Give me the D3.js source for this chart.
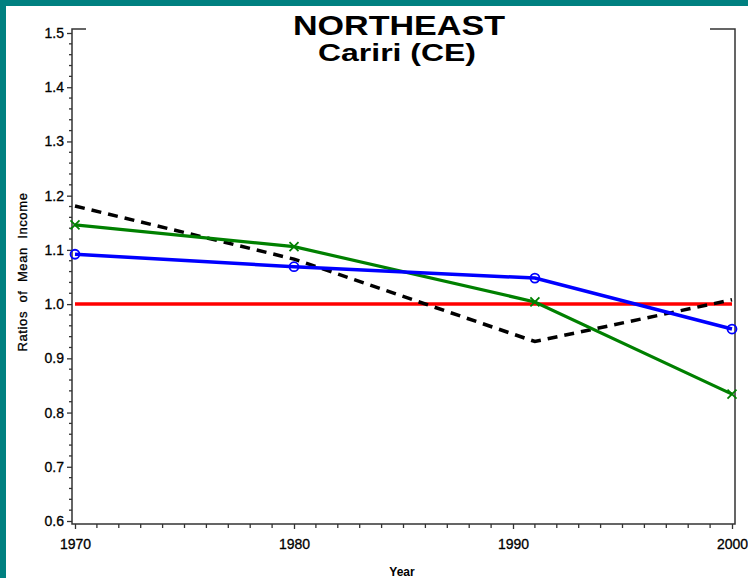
<!DOCTYPE html>
<html>
<head>
<meta charset="utf-8">
<script src="https://cdn.jsdelivr.net/npm/d3@7"></script>
<style>
  html, body { margin: 0; padding: 0; background: #ffffff; }
  svg { display: block; font-family: "Liberation Sans", Arial, Helvetica, sans-serif; }
</style>
</head>
<body>
<div id="chart"></div>
<script>
// data
const years = [1970, 1980, 1991, 2000];
const blueValues = [1.092, 1.069, 1.048, 0.954];
const greenValues = [1.146, 1.106, 1.004, 0.834];
const blackValues = [1.181, 1.083, 0.931, 1.008];
const redValues = [1.0, 1.0, 1.0, 1.0];
const yTicks = [0.6, 0.7, 0.8, 0.9, 1.0, 1.1, 1.2, 1.3, 1.4, 1.5];
const xTicks = [1970, 1980, 1990, 2000];

const width = 748, height = 578;

const svg = d3.select('#chart').append('svg')
  .attr('width', width)
  .attr('height', height);

// teal frame on left and top
svg.append('rect').attr('x', 0).attr('y', 0).attr('width', width).attr('height', 6).attr('fill', '#008080');
svg.append('rect').attr('x', 0).attr('y', 0).attr('width', 6).attr('height', height).attr('fill', '#008080');

const x = d3.scaleLinear().domain([1970, 2000]).range([75, 732]);
const y = d3.scaleLinear().domain([0.6, 1.5]).range([521, 33]);

const axisLeft = 72, axisRight = 735, axisBottom = 524, axisTop = 29;

// y axis
const yAxis = d3.axisLeft(y)
  .tickValues(yTicks)
  .tickFormat(d3.format('.1f'))
  .tickSize(5)
  .tickPadding(3);
const gy = svg.append('g').attr('transform', `translate(${axisLeft},0)`).call(yAxis);
gy.select('.domain').remove();
gy.selectAll('line').attr('stroke', '#333').attr('stroke-width', 1.3);
gy.selectAll('text').attr('font-size', 14).attr('fill', '#000')
  .attr('stroke', '#000').attr('stroke-width', 0.3);

// y minor ticks
const yMinor = d3.range(0.6, 1.5001, 0.02).filter(v => Math.abs(v * 10 - Math.round(v * 10)) > 0.01);
svg.append('g').selectAll('line').data(yMinor).enter().append('line')
  .attr('x1', axisLeft - 3).attr('x2', axisLeft)
  .attr('y1', d => y(d)).attr('y2', d => y(d))
  .attr('stroke', '#333').attr('stroke-width', 1.3);

// x axis
const xAxis = d3.axisBottom(x)
  .tickValues(xTicks)
  .tickFormat(d3.format('d'))
  .tickSize(5)
  .tickPadding(10);
const gx = svg.append('g').attr('transform', `translate(0,${axisBottom})`).call(xAxis);
gx.select('.domain').remove();
gx.selectAll('line').attr('stroke', '#333').attr('stroke-width', 1.3);
gx.selectAll('text').attr('font-size', 14).attr('fill', '#000')
  .attr('stroke', '#000').attr('stroke-width', 0.3);

// x minor ticks, every year
const xMinor = d3.range(1970, 2001).filter(v => v % 10 !== 0);
svg.append('g').selectAll('line').data(xMinor).enter().append('line')
  .attr('x1', d => x(d)).attr('x2', d => x(d))
  .attr('y1', axisBottom).attr('y2', axisBottom + 4)
  .attr('stroke', '#333').attr('stroke-width', 1.3);

// axis frame (gap at the top for the title)
const frame = svg.append('g').attr('fill', 'none').attr('stroke', '#333').attr('stroke-width', 1.5);
frame.append('path').attr('d', `M${axisLeft + 14},${axisTop}H${axisLeft}V${axisBottom}H${axisRight}V${axisTop}H${axisRight - 25}`);

// series
const line = d3.line().x((d, i) => x(years[i])).y(d => y(d));

svg.append('path').datum(redValues)
  .attr('d', line).attr('fill', 'none').attr('stroke', '#ff0000').attr('stroke-width', 3.5);

svg.append('path').datum(blackValues)
  .attr('d', line).attr('fill', 'none').attr('stroke', '#000').attr('stroke-width', 3.5)
  .attr('stroke-dasharray', '10,7');

svg.append('path').datum(greenValues)
  .attr('d', line).attr('fill', 'none').attr('stroke', '#008000').attr('stroke-width', 3.2);

svg.append('path').datum(blueValues)
  .attr('d', line).attr('fill', 'none').attr('stroke', '#0000ff').attr('stroke-width', 3.5);

// markers
svg.append('g').selectAll('circle').data(blueValues).enter().append('circle')
  .attr('cx', (d, i) => x(years[i])).attr('cy', d => y(d)).attr('r', 4.5)
  .attr('fill', 'none').attr('stroke', '#0000ff').attr('stroke-width', 1.8);

const cross = svg.append('g').attr('stroke', '#008000').attr('stroke-width', 1.8);
greenValues.forEach((d, i) => {
  const cx = x(years[i]), cy = y(d), s = 4.5;
  cross.append('line').attr('x1', cx - s).attr('y1', cy - s).attr('x2', cx + s).attr('y2', cy + s);
  cross.append('line').attr('x1', cx - s).attr('y1', cy + s).attr('x2', cx + s).attr('y2', cy - s);
});

// titles
svg.append('text').attr('x', 399).attr('y', 35).attr('text-anchor', 'middle')
  .attr('font-size', 28).attr('font-weight', 'bold')
  .attr('textLength', 212).attr('lengthAdjust', 'spacingAndGlyphs')
  .text('NORTHEAST');
svg.append('text').attr('x', 397).attr('y', 61).attr('text-anchor', 'middle')
  .attr('font-size', 23).attr('font-weight', 'bold')
  .attr('textLength', 158).attr('lengthAdjust', 'spacingAndGlyphs')
  .text('Cariri (CE)');

svg.append('text').attr('x', 402).attr('y', 576).attr('text-anchor', 'middle')
  .attr('font-size', 12).attr('font-weight', 'bold').text('Year');

svg.append('text')
  .attr('transform', 'translate(27,272) rotate(-90)')
  .attr('text-anchor', 'middle')
  .attr('font-size', 13).attr('letter-spacing', 0.6)
  .attr('stroke', '#000').attr('stroke-width', 0.3)
  .text('Ratios  of  Mean  Income')
  .style('white-space', 'pre');
</script>
</body>
</html>
